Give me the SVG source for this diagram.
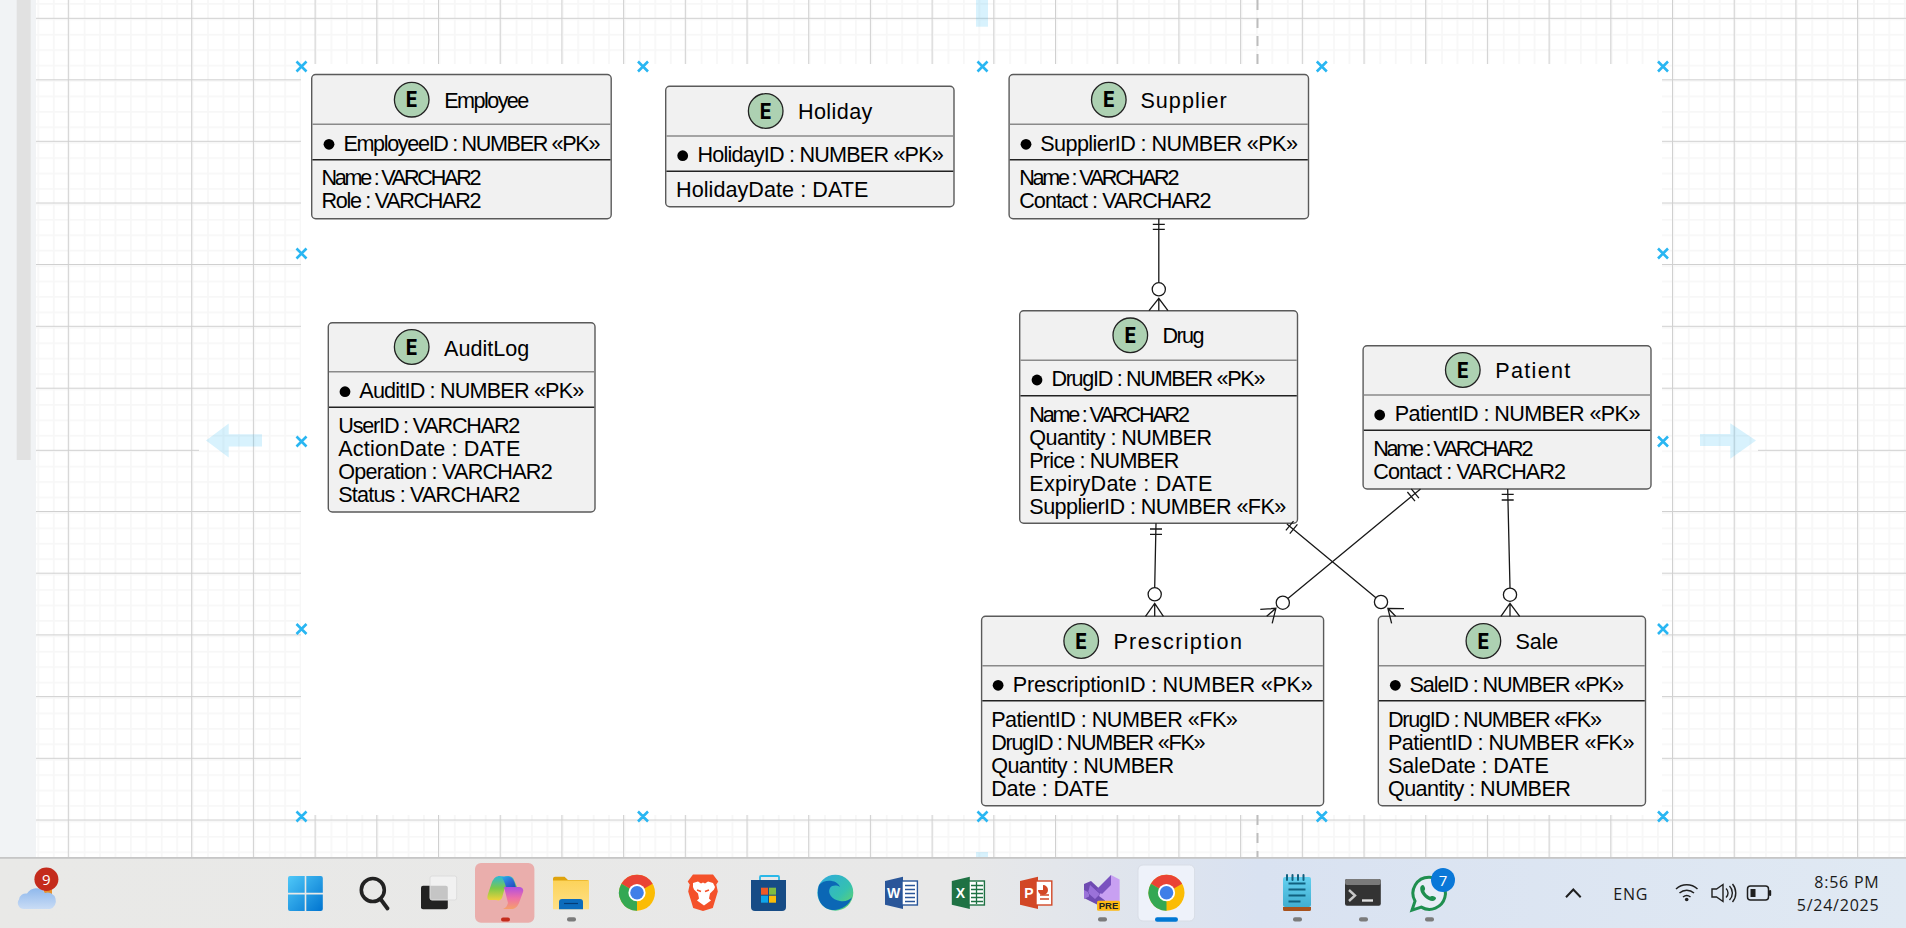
<svg xmlns="http://www.w3.org/2000/svg" width="1906" height="928" viewBox="0 0 1906 928">
<style>
text{font-family:"Liberation Sans",Arial,sans-serif;font-size:21.6px;fill:#000}
.box{fill:#f1f1f1;stroke:#5a5a5a;stroke-width:1.4}
.s1{stroke:#8a8a8a;stroke-width:1.4}
.s2{stroke:#222;stroke-width:1.6}
.spot{fill:#add1b2;stroke:#222;stroke-width:1.3}
.e{font-family:"DejaVu Sans Mono","Liberation Mono",monospace;font-weight:700;font-size:21px;text-anchor:middle}
.line{fill:none;stroke:#181818;stroke-width:1.3}
.ring{fill:#fff;stroke:#181818;stroke-width:1.3}
.mark{stroke:#29b6f2;stroke-width:2.6;fill:none}
.hint{fill:#29b6f2;opacity:.18}
.dot{fill:#7b7b7b}
.tb{font-family:"Open Sans","Noto Sans",sans-serif;font-size:16px;fill:#1a1a1a}
.gridmaj{stroke:#d0d0d0;stroke-width:1;fill:none}
</style>
<defs>
<pattern id="minor" patternUnits="userSpaceOnUse" x="6.58" y="3" width="15.425" height="15.425">
<rect width="15.425" height="15.425" fill="#fff"/>
<path d="M0 0H15.425M0 0V15.425" stroke="#f7f7f7" stroke-width="3.4" fill="none"/>
</pattern>
<linearGradient id="tbg" x1="0" x2="1" y1="0" y2="0">
<stop offset="0" stop-color="#e9e9e7"/><stop offset=".5" stop-color="#e8e8e8"/><stop offset=".66" stop-color="#d9e2f1"/><stop offset="1" stop-color="#e0e9f3"/>
</linearGradient>
<linearGradient id="cloud" x1="0" x2="0" y1="0" y2="1"><stop offset="0" stop-color="#8fb8ec"/><stop offset="1" stop-color="#c9dcf5"/></linearGradient>
<linearGradient id="win" x1="0" x2="1" y1="0" y2="1"><stop offset="0" stop-color="#4fc8f8"/><stop offset="1" stop-color="#0074d0"/></linearGradient>
<linearGradient id="cop1" x1="0" x2="1" y1="0" y2="1"><stop offset="0" stop-color="#25b5e8"/><stop offset=".5" stop-color="#2f6fd8"/><stop offset="1" stop-color="#1f49b8"/></linearGradient>
<linearGradient id="cop2" x1="0" x2="0" y1="0" y2="1"><stop offset="0" stop-color="#2bb8d8"/><stop offset=".5" stop-color="#7cc84a"/><stop offset="1" stop-color="#f1d23a"/></linearGradient>
<linearGradient id="cop3" x1="0" x2="0" y1="0" y2="1"><stop offset="0" stop-color="#b04fe0"/><stop offset=".5" stop-color="#ee6fa8"/><stop offset="1" stop-color="#f5a06a"/></linearGradient>
<linearGradient id="fold" x1="0" x2="0" y1="0" y2="1"><stop offset="0" stop-color="#fcd35a"/><stop offset="1" stop-color="#ffe087"/></linearGradient>
<linearGradient id="edge" x1="0" x2="1" y1="0" y2="1"><stop offset="0" stop-color="#2ea8e0"/><stop offset=".6" stop-color="#35c1b0"/><stop offset="1" stop-color="#6fd85a"/></linearGradient>
<linearGradient id="note" x1="0" x2="0" y1="0" y2="1"><stop offset="0" stop-color="#63d0f0"/><stop offset="1" stop-color="#41aed0"/></linearGradient>
<g id="chrome">
<circle r="18" fill="#fbbc04"/>
<path d="M0 0L-15.6 -9A18 18 0 0 1 15.6 -9Z" fill="#ea4335"/>
<path d="M0 0L-15.6 -9A18 18 0 0 0 0 18Z" fill="#34a853"/>
<circle r="8.6" fill="#fff"/><circle r="6.8" fill="#3f7fe8"/>
</g>
</defs>

<g id="canvas">
<rect width="1906" height="928" fill="#fff"/>
<rect x="36" y="0" width="1870" height="858" fill="url(#minor)"/>
<path class="gridmaj" d="M68.3 0V858M191.7 0V858M253.4 0V858M315.1 0V858M376.8 0V858M438.5 0V858M500.2 0V858M561.9 0V858M623.6 0V858M685.3 0V858M747 0V858M808.7 0V858M870.4 0V858M932.1 0V858M993.8 0V858M1055.5 0V858M1117.2 0V858M1178.9 0V858M1240.6 0V858M1302.3 0V858M1364 0V858M1425.7 0V858M1487.4 0V858M1549.1 0V858M1610.8 0V858M1672.5 0V858M1734.2 0V858M1795.9 0V858M1857.6 0V858"/>
<path class="gridmaj" d="M36 18.3H1906M36 79.8H1906M36 141.3H1906M36 203H1906M36 264.5H1906M36 326.3H1906M36 388.2H1906M36 450.3H199M1758 450.3H1906M36 511.5H1906M36 573.2H1906M36 634.9H1906M36 696.6H1906M36 758.3H1906M36 820H1906"/>
<path d="M1257.5 0V64M1257.5 815V858" stroke="#bdbdbd" stroke-width="2" stroke-dasharray="10 8" fill="none"/>
<rect x="301" y="64" width="1361" height="751" fill="#fff"/>
<rect x="0" y="0" width="36" height="858" fill="#f1f3f5"/>
<rect x="16.700" y="0" width="14" height="460" fill="#e1e1e1"/>
<path class="hint" d="M206 440.5L228.7 423.5V434.3H262V446.5H228.7V457.5Z"/>
<path class="hint" d="M1756 440.5L1730.3 423.3V434H1700V446H1730.3V458.7Z"/>
<rect class="hint" x="976" y="0" width="12" height="26.7"/>
<rect class="hint" x="976" y="852" width="12" height="6"/>
<path class="mark" d="M296.500 61.500l10 10m0 -10l-10 10M638 61.500l10 10m0 -10l-10 10M977.500 61.500l10 10m0 -10l-10 10M1316.800 61.500l10 10m0 -10l-10 10M1658 61.500l10 10m0 -10l-10 10M296.500 248.500l10 10m0 -10l-10 10M1658 248.500l10 10m0 -10l-10 10M296.500 436.500l10 10m0 -10l-10 10M1658 436.500l10 10m0 -10l-10 10M296.500 624l10 10m0 -10l-10 10M1658 624l10 10m0 -10l-10 10M296.500 811.500l10 10m0 -10l-10 10M638 811.500l10 10m0 -10l-10 10M977.500 811.500l10 10m0 -10l-10 10M1316.800 811.500l10 10m0 -10l-10 10M1658 811.500l10 10m0 -10l-10 10"/>
</g>

<g id="node-employee">
<rect class="box" x="311.7" y="74.5" width="299.5" height="144.2" rx="4"/>
<path class="s1" d="M312.4 124.3H610.5"/><path class="s2" d="M312.4 159.7H610.5"/>
<circle class="spot" cx="411.7" cy="99.7" r="17.3"/><text class="e" x="411.7" y="107.400">E</text>
<text x="444.3" y="108" textLength="85">Employee</text>
<circle cx="329" cy="144.3" r="5.4"/>
<text x="343.4" y="150.7" textLength="257">EmployeeID : NUMBER «PK»</text>
<text x="321.5" y="185.3" textLength="160">Name : VARCHAR2</text>
<text x="321.5" y="208.3" textLength="160">Role : VARCHAR2</text>
</g>

<g id="node-holiday">
<rect class="box" x="665.7" y="86.3" width="288.3" height="120.4" rx="4"/>
<path class="s1" d="M666.4 136H953.3"/><path class="s2" d="M666.4 171.3H953.3"/>
<circle class="spot" cx="765.7" cy="111" r="17.3"/><text class="e" x="765.7" y="118.700">E</text>
<text x="797.9" y="119.3" textLength="74.5">Holiday</text>
<circle cx="682.7" cy="155.7" r="5.4"/>
<text x="697.4" y="161.7" textLength="246.4">HolidayID : NUMBER «PK»</text>
<text x="676" y="197.3" textLength="192.4">HolidayDate : DATE</text>
</g>

<g id="node-supplier">
<rect class="box" x="1009.1" y="74.5" width="299.4" height="144.2" rx="4"/>
<path class="s1" d="M1009.8 124.3H1307.8"/><path class="s2" d="M1009.8 159.7H1307.8"/>
<circle class="spot" cx="1108.8" cy="99.7" r="17.3"/><text class="e" x="1108.8" y="107.400">E</text>
<text x="1140.4" y="108" textLength="86.4">Supplier</text>
<circle cx="1026" cy="144.3" r="5.4"/>
<text x="1040.3" y="150.7" textLength="257.6">SupplierID : NUMBER «PK»</text>
<text x="1019.2" y="185.3" textLength="160.3">Name : VARCHAR2</text>
<text x="1019.2" y="208.3" textLength="192.4">Contact : VARCHAR2</text>
</g>

<g id="node-auditlog">
<rect class="box" x="328.3" y="322.7" width="266.7" height="189.3" rx="4"/>
<path class="s1" d="M329 371.7H594.3"/><path class="s2" d="M329 407.3H594.3"/>
<circle class="spot" cx="411.7" cy="347" r="17.3"/><text class="e" x="411.7" y="354.700">E</text>
<text x="444" y="356" textLength="85.3">AuditLog</text>
<circle cx="345" cy="391.7" r="5.4"/>
<text x="359.3" y="398" textLength="225">AuditID : NUMBER «PK»</text>
<text x="338.3" y="433" textLength="182">UserID : VARCHAR2</text>
<text x="338.3" y="456" textLength="182">ActionDate : DATE</text>
<text x="338.3" y="479" textLength="214.4">Operation : VARCHAR2</text>
<text x="338.3" y="502" textLength="182">Status : VARCHAR2</text>
</g>

<g id="node-drug">
<rect class="box" x="1019.7" y="310.7" width="277.8" height="212.6" rx="4"/>
<path class="s1" d="M1020.4 360.3H1296.8"/><path class="s2" d="M1020.4 395.7H1296.8"/>
<circle class="spot" cx="1130.3" cy="335.3" r="17.3"/><text class="e" x="1130.3" y="343">E</text>
<text x="1162.5" y="343.3" textLength="42">Drug</text>
<circle cx="1037" cy="380" r="5.4"/>
<text x="1051.4" y="386" textLength="214">DrugID : NUMBER «PK»</text>
<text x="1029.3" y="421.7" textLength="160.7">Name : VARCHAR2</text>
<text x="1029.3" y="444.7" textLength="182.7">Quantity : NUMBER</text>
<text x="1029.3" y="467.7" textLength="150">Price : NUMBER</text>
<text x="1029.3" y="491" textLength="183">ExpiryDate : DATE</text>
<text x="1029.3" y="513.8" textLength="257">SupplierID : NUMBER «FK»</text>
</g>

<g id="node-patient">
<rect class="box" x="1363.1" y="345.7" width="287.9" height="143.3" rx="4"/>
<path class="s1" d="M1363.8 395H1650.3"/><path class="s2" d="M1363.8 430.3H1650.3"/>
<circle class="spot" cx="1462.8" cy="370" r="17.3"/><text class="e" x="1462.8" y="377.700">E</text>
<text x="1495.3" y="378.3" textLength="75">Patient</text>
<circle cx="1379.7" cy="415" r="5.4"/>
<text x="1394.8" y="421.3" textLength="245.6">PatientID : NUMBER «PK»</text>
<text x="1373.2" y="456.3" textLength="160.3">Name : VARCHAR2</text>
<text x="1373.2" y="479.3" textLength="192.8">Contact : VARCHAR2</text>
</g>

<g id="node-prescription">
<rect class="box" x="981.6" y="616.3" width="342" height="189.4" rx="4"/>
<path class="s1" d="M982.3 665.7H1322.9"/><path class="s2" d="M982.3 700.7H1322.9"/>
<circle class="spot" cx="1081.2" cy="641" r="17.3"/><text class="e" x="1081.2" y="648.700">E</text>
<text x="1113.4" y="649.3" textLength="128.5">Prescription</text>
<circle cx="998.1" cy="685.3" r="5.4"/>
<text x="1012.8" y="691.7" textLength="300">PrescriptionID : NUMBER «PK»</text>
<text x="991.2" y="727.3" textLength="246.6">PatientID : NUMBER «FK»</text>
<text x="991.2" y="750.3" textLength="214.4">DrugID : NUMBER «FK»</text>
<text x="991.2" y="773.3" textLength="182.8">Quantity : NUMBER</text>
<text x="991.2" y="796.3" textLength="117.6">Date : DATE</text>
</g>

<g id="node-sale">
<rect class="box" x="1378.3" y="616.3" width="267.2" height="189.4" rx="4"/>
<path class="s1" d="M1379 665.7H1644.8"/><path class="s2" d="M1379 700.7H1644.8"/>
<circle class="spot" cx="1483.4" cy="641" r="17.3"/><text class="e" x="1483.4" y="648.700">E</text>
<text x="1515.6" y="649.3" textLength="42.7">Sale</text>
<circle cx="1395.3" cy="685.3" r="5.4"/>
<text x="1409.5" y="691.7" textLength="214.4">SaleID : NUMBER «PK»</text>
<text x="1387.9" y="727.3" textLength="214">DrugID : NUMBER «FK»</text>
<text x="1387.9" y="750.3" textLength="246.6">PatientID : NUMBER «FK»</text>
<text x="1387.9" y="773.3" textLength="161">SaleDate : DATE</text>
<text x="1387.9" y="796.3" textLength="183">Quantity : NUMBER</text>
</g>

<g id="connectors">
<g id="edge-supplier-drug">
<path class="line" d="M1158.8 218.7V282.7M1152.8 224.3H1164.8M1152.8 229.3H1164.8M1149 310.7L1158.8 298.3L1168 310.7M1158.8 298.3V310.7"/>
<circle class="ring" cx="1158.8" cy="289.3" r="6.6"/>
</g>
<g id="edge-drug-prescription">
<path class="line" d="M1156 523.3L1154.7 587.7M1150 529H1162M1150 534.3H1162M1145.5 616.3L1154.7 603.3L1163.4 616.3M1154.7 603.3V616.3"/>
<circle class="ring" cx="1154.7" cy="594.3" r="6.6"/>
</g>
<g id="edge-patient-sale">
<path class="line" d="M1507.7 489L1510 588.1M1501.7 494.3H1513.7M1501.7 500H1513.7M1500.9 616.3L1510 603.3L1519.7 616.3M1510 603.3V616.3"/>
<circle class="ring" cx="1510" cy="594.7" r="6.6"/>
</g>
<g id="edge-patient-prescription">
<path class="line" d="M1420.5 489L1287.9 598.5M1418.9 498.1L1411.3 488.9M1415 501.2L1407.4 492M1260.3 609.3L1275.9 608.3L1272.2 623.3M1275.9 608.3L1266.7 616.3"/>
<circle class="ring" cx="1282.8" cy="602.7" r="6.6"/>
</g>
<g id="edge-drug-sale">
<path class="line" d="M1286.9 524L1375.9 597.8M1285.9 530.4L1293.5 521.2M1289.8 533.6L1297.4 524.4M1404 608.7L1387.9 608.3L1391.6 623.3M1387.9 608.3L1395.6 616.3"/>
<circle class="ring" cx="1381" cy="602" r="6.6"/>
</g>
</g>

<g id="taskbar">
<rect x="0" y="857.5" width="1906" height="70.5" fill="url(#tbg)"/>
<rect x="0" y="857" width="1906" height="1.8" fill="#c6c6c6"/>

<path d="M44 888h8v8h-8z" fill="#e8912d"/>
<path d="M24 909a6 6 0 0 1-5-9.5a7 7 0 0 1 8-6a10.500 10.500 0 0 1 18-0.500a8 8 0 0 1 5 16z" fill="url(#cloud)"/>
<ellipse cx="46.400" cy="879.300" rx="12" ry="11.700" fill="#c42b1c"/>
<text class="tb" x="46.400" y="885" text-anchor="middle" style="fill:#fff;font-size:15px">9</text>

<path d="M288 878a2 2 0 0 1 2-2h14.700v16.800h-16.700zM306.300 876h14.500a2 2 0 0 1 2 2v14.800h-16.500zM288 894.500h16.700V911h-14.700a2 2 0 0 1-2-2zM306.300 894.500h16.500V909a2 2 0 0 1-2 2h-14.500z" fill="url(#win)"/>

<circle cx="372.800" cy="890" r="11.500" fill="none" stroke="#222" stroke-width="3.600"/>
<path d="M380.500 899L387.500 908.500" stroke="#222" stroke-width="3.800" stroke-linecap="round"/>

<rect x="421" y="885.700" width="26.800" height="23.600" rx="2" fill="#222"/>
<rect x="430" y="876" width="26.700" height="24" rx="2" fill="#f3f3f3" fill-opacity=".78" stroke="#ddd"/>

<rect x="475" y="863" width="59.400" height="59.700" rx="6" fill="#eaaeac"/>
<path d="M504 877c3-2 9-1 10 3l3 7l-12 0l-3 11c-1 2-3 3-6 2h-6c-3 0-3-3-2-6l4-12c2-4 4-6 8-6z" fill="url(#cop2)"/>
<path d="M501 876.500h6c4 0 6 2 7.500 6l1.500 5h-10c-1-5-3-9-5-11z" fill="url(#cop1)"/>
<path d="M504 887h15c3 0 5 2 4 5l-4 11c-2 4-4 6-8 6h-8c3-1 4-3 5-6z" fill="url(#cop3)"/>
<rect x="501" y="917.500" width="9" height="4" rx="2" fill="#c42b1c"/>

<path d="M553 878.700a2 2 0 0 1 2-2h9.500l3.500 3.300h19a2 2 0 0 1 2 2v4h-36z" fill="#dfa30d"/>
<rect x="553" y="880.500" width="36" height="28.800" fill="url(#fold)"/>
<path d="M559 902a3 3 0 0 1 3-3h18a3 3 0 0 1 3 3v7.300h-24z" fill="#0c6cbc"/>
<path d="M564 903.500h14" stroke="#043d77" stroke-width="1.200"/>
<rect class="dot" x="567" y="917.300" width="9" height="4.200" rx="2"/>

<use href="#chrome" x="637" y="892.700"/>

<path d="M693 874.500h20l5.300 7l-2 3l1.500 7l-5 16.500l-9.800 3l-9.800-3l-5-16.500l1.500-7l-2-3z" fill="#f4512a"/>
<path d="M693 883l5-1.500l3 2l2-1l2 1l3-2l5 1.500l2 4l-1 2.500l-4 4l-1 5l2 2l-7 5l-7-5l2-2l-1-5l-4-4l-1-2.500z" fill="#fff"/>
<path d="M697 890l4 1.500M709 890l-4 1.500" stroke="#f4512a" stroke-width="1.600"/>

<path d="M760 880v-3a1 1 0 0 1 1-1h17a1 1 0 0 1 1 1v3" fill="none" stroke="#2bb8e8" stroke-width="1.800"/>
<path d="M751 880h35v27a4 4 0 0 1-4 4h-27a4 4 0 0 1-4-4z" fill="#174c86"/>
<rect x="761" y="887.700" width="7" height="7" fill="#f05a28"/><rect x="769" y="887.700" width="7" height="7" fill="#80bb42"/><rect x="761" y="895.700" width="7" height="7" fill="#0fa5e9"/><rect x="769" y="895.700" width="7" height="7" fill="#fbbc09"/>

<circle cx="835.300" cy="892.700" r="18" fill="url(#edge)"/>
<path d="M819 885c5-6 18-6 21 2c-3-2-8-2-10 1c-3 5 2 12 10 13c5 1 10-1 12-4c-2 8-11 13-18 13c-11 0-19-10-15-25z" fill="#0b67b5"/>

<path d="M885 881l18-4.300v32.300l-18-4.300z" fill="#2a5699"/>
<rect x="902" y="881" width="15.400" height="24" fill="#fff" stroke="#2a5699" stroke-width="1.400"/>
<path d="M905 885.500h10M905 889.500h10M905 893.500h10M905 897.500h10M905 901.500h10" stroke="#2a5699" stroke-width="1.300"/>
<text x="893.500" y="898" text-anchor="middle" style="fill:#fff;font-size:14px;font-weight:700">W</text>

<path d="M951.800 881l18-4.300v32.300l-18-4.300z" fill="#1f7244"/>
<rect x="969" y="881" width="15.400" height="24" fill="#fff" stroke="#1f7244" stroke-width="1.400"/>
<path d="M971 885.500h12M971 889.500h12M971 893.500h12M971 897.500h12M971 901.500h12M976.500 882v22" stroke="#1f7244" stroke-width="1.300"/>
<text x="960.500" y="898" text-anchor="middle" style="fill:#fff;font-size:14px;font-weight:700">X</text>

<path d="M1020 881l18-4.300v32.300l-18-4.300z" fill="#d24726"/>
<rect x="1036" y="881" width="15.800" height="24" fill="#fff" stroke="#d24726" stroke-width="1.400"/>
<path d="M1040 895h9M1040 899h9" stroke="#d24726" stroke-width="1.400"/>
<path d="M1043 890v-5a5 5 0 1 1-5 5z" fill="#d24726"/>
<text x="1029" y="898" text-anchor="middle" style="fill:#fff;font-size:14px;font-weight:700">P</text>

<path d="M1084 884l7-3l14 13l0 8l-7 3l-14-7z" fill="#6f4bb2"/>
<path d="M1084 890v9l5-2.500v-4zM1090 885l10 9l-5 5l-7-6z" fill="#9a72d9"/>
<path d="M1111 875l8.600 4.500v22l-8.600 3.500l-12-9z" fill="#c8a0f2"/>
<path d="M1096 890l15-15v10l-9 9z" fill="#7a53bf"/>
<rect x="1097" y="900.700" width="23" height="10" rx="1.500" fill="#fdb913"/>
<text x="1108.500" y="909.300" text-anchor="middle" style="fill:#222;font-size:9.500px;font-weight:700">PRE</text>
<rect class="dot" x="1098" y="917.300" width="9" height="4.200" rx="2"/>

<rect x="1138" y="865" width="56.600" height="56" rx="5" fill="#eef2fa" stroke="#d8dde6"/>
<use href="#chrome" x="1166.500" y="892.700"/>
<rect x="1155" y="917.300" width="23" height="4.400" rx="2.200" fill="#0078d4"/>

<rect x="1283" y="877" width="28" height="30" rx="2" fill="url(#note)"/>
<path d="M1283 907h28v2.500a1.500 1.500 0 0 1-1.500 1.500h-25a1.500 1.500 0 0 1-1.500-1.500z" fill="#a8521d"/>
<path d="M1287 875v5M1292.500 875v5M1298 875v5M1303.500 875v5" stroke="#10607f" stroke-width="2" stroke-linecap="round"/>
<path d="M1288.500 884h17M1288.500 890h17M1288.500 896h17M1288.500 902h12" stroke="#10607f" stroke-width="1.800" transform="translate(0 -.5)"/>
<rect class="dot" x="1293" y="917.300" width="9" height="4.200" rx="2"/>

<rect x="1345" y="879" width="35.800" height="26.700" rx="2" fill="#333"/>
<rect x="1345" y="879" width="35.800" height="6" rx="2" fill="#7a7a7a"/>
<path d="M1349 890l6 5.500l-6 5.500" fill="none" stroke="#c8c8c8" stroke-width="2.400"/>
<path d="M1362 900.500h11" stroke="#e0e0e0" stroke-width="2.400"/>
<rect class="dot" x="1359" y="917.300" width="9" height="4.200" rx="2"/>

<path d="M1429.300 877.300a16 16 0 1 1-8 29.800l-9.300 3l3-9a16 16 0 0 1 14.300-23.800z" fill="#fff" fill-opacity=".35" stroke="#1f8f4f" stroke-width="3"/>
<path d="M1421 886c2-2 3-1 4 2c.5 2-1 2-.5 3.500c1 2 3 4 5 5c1.500.5 1.500-1 3.500-.5c3 1 4 2 2 4c-2 2-6 1-10-2.500c-4-3.500-6-9-4-11.500z" fill="#1f8f4f"/>
<circle cx="1443" cy="880" r="12" fill="#0a78d8"/>
<text class="tb" x="1443" y="886" text-anchor="middle" style="fill:#fff;font-size:15px">7</text>
<rect class="dot" x="1425" y="917.300" width="9" height="4.200" rx="2"/>

<path d="M1566 897.300L1573.300 889.500L1580.700 897.300" fill="none" stroke="#1f1f1f" stroke-width="2"/>
<text class="tb" x="1613.300" y="900" textLength="34">ENG</text>
<path d="M1676 889a16 16 0 0 1 21.500 0M1679.500 893a11 11 0 0 1 14.500 0M1683 897a6 6 0 0 1 7.500 0" fill="none" stroke="#1f1f1f" stroke-width="1.500"/>
<circle cx="1686.700" cy="899.500" r="1.800" fill="#1f1f1f"/>
<path d="M1712 889h4.500l6.500-4.500v17l-6.500-4.500h-4.500z" fill="none" stroke="#1f1f1f" stroke-width="1.400"/>
<path d="M1726 888.500a6 6 0 0 1 0 9M1729.500 886a10 10 0 0 1 0 14M1732.500 884a14 14 0 0 1 0 18" fill="none" stroke="#1f1f1f" stroke-width="1.400"/>
<rect x="1747.500" y="886" width="21" height="14" rx="3" fill="none" stroke="#1f1f1f" stroke-width="1.500"/>
<rect x="1750.500" y="889" width="5" height="8" fill="#1f1f1f"/>
<rect x="1769" y="890" width="2.200" height="6" rx="1" fill="#1f1f1f"/>
<text class="tb" x="1814.300" y="887.700" textLength="64.400">8:56 PM</text>
<text class="tb" x="1796.700" y="911.300" textLength="82">5/24/2025</text>
</g>
</svg>
